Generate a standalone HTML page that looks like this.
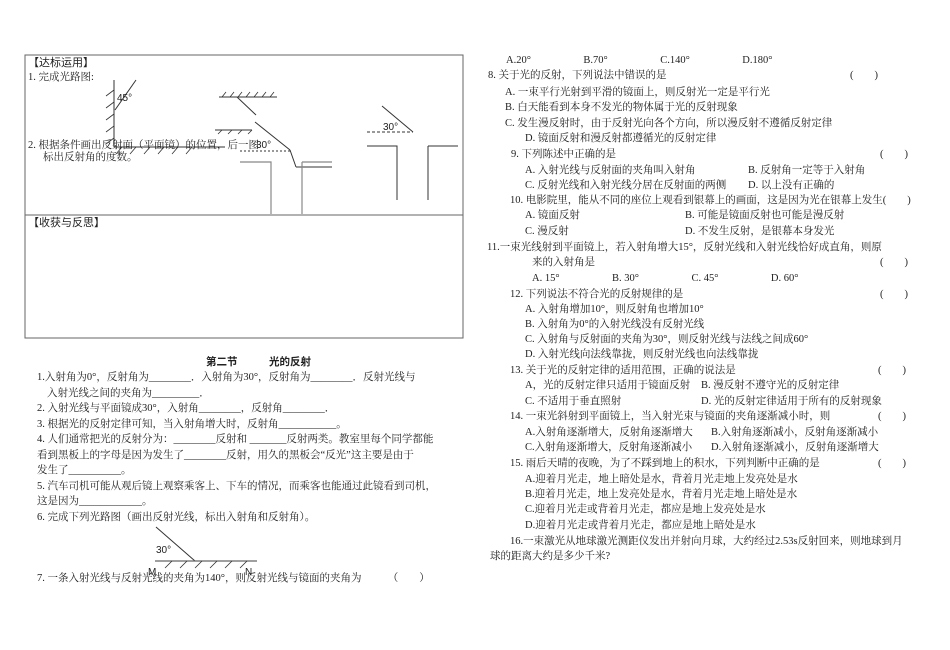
<!DOCTYPE html>
<html><head><meta charset="utf-8"><style>
body{margin:0;width:950px;height:650px;background:#fff;position:relative;overflow:hidden;font-family:"Liberation Serif","Noto Serif CJK SC","Noto Sans CJK SC",serif;font-size:10.5px;color:#222}
.t{position:absolute;white-space:nowrap;line-height:12px}
.s{font-family:"Liberation Sans","Noto Sans CJK SC",sans-serif}
</style></head><body>
<svg width="950" height="650" style="position:absolute;left:0;top:0" stroke="#333" fill="none" stroke-width="1">
<rect x="25" y="55" width="438" height="283" stroke="#666"/>
<line x1="25" y1="215" x2="463" y2="215" stroke="#666"/>
<line x1="114" y1="80" x2="114" y2="147"/>
<line x1="114" y1="147" x2="225" y2="147"/>
<g stroke-width="0.8">
<path d="M114 90l-8 6M114 102l-8 6M114 114l-8 6M114 126l-8 6M114 138l-8 6"/>
<path d="M122 147l-6 7M136 147l-6 7M150 147l-6 7M164 147l-6 7M178 147l-6 7M192 147l-6 7"/>
</g>
<line x1="136" y1="80" x2="115" y2="110"/>
<text x="117" y="101" fill="#222" stroke="none" font-family="Liberation Sans" font-size="10">45°</text>
<line x1="219" y1="97" x2="277" y2="97"/>
<path d="M222 97l4-5M230 97l4-5M238 97l4-5M246 97l4-5M254 97l4-5M262 97l4-5M270 97l4-5" stroke-width="0.8"/>
<line x1="256" y1="115" x2="237" y2="97"/>
<line x1="215" y1="130" x2="252" y2="130"/>
<path d="M218 134l4-4M228 134l4-4M238 134l4-4M248 134l4-4" stroke-width="0.8"/>
<line x1="255" y1="122" x2="290" y2="150"/>
<line x1="290" y1="150" x2="296" y2="167"/>
<line x1="296" y1="167" x2="332" y2="167"/>
<line x1="240" y1="151" x2="290" y2="151" stroke-dasharray="2,2"/>
<text x="256" y="148" fill="#222" stroke="none" font-family="Liberation Sans" font-size="10">30°</text>
<path d="M240 162h31v52M302 162h30M302 162v52" stroke="#888" stroke-width="1.2"/>
<line x1="382" y1="106" x2="413" y2="132"/>
<line x1="367" y1="132" x2="413" y2="132" stroke-dasharray="3,2"/>
<text x="383" y="130" fill="#222" stroke="none" font-family="Liberation Sans" font-size="10">30°</text>
<path d="M367 146h30v54M428 146h30M428 146v54"/>
<line x1="156" y1="527" x2="195" y2="561"/>
<line x1="155" y1="561" x2="257" y2="561" stroke="#666" stroke-width="1.2"/>
<path d="M165 568l7-7M180 568l7-7M195 568l7-7M210 568l7-7M225 568l7-7M240 568l7-7" stroke-width="0.8"/>
<text x="156" y="553" fill="#222" stroke="none" font-family="Liberation Sans" font-size="10">30°</text>
<text x="148" y="575" fill="#222" stroke="none" font-family="Liberation Sans" font-size="10">M</text>
<text x="245" y="575" fill="#222" stroke="none" font-family="Liberation Sans" font-size="10">N</text>
</svg>
<div class="t s" style="left:28px;top:57px;font-size:11px">【达标运用】</div>
<div class="t" style="left:28px;top:72px">1. 完成光路图:</div>
<div class="t" style="left:28px;top:140px">2. 根据条件画出反射面（平面镜）的位置，后一图</div>
<div class="t" style="left:43px;top:152px">标出反射角的度数。</div>
<div class="t s" style="left:28px;top:217px;font-size:11px">【收获与反思】</div>

<div class="t s" style="left:206px;top:356px;font-weight:bold">第二节　　　光的反射</div>
<div class="t" style="left:37px;top:372px">1.入射角为0°，反射角为________．入射角为30°，反射角为________．反射光线与</div>
<div class="t" style="left:47px;top:388px">入射光线之间的夹角为_________．</div>
<div class="t" style="left:37px;top:403px">2. 入射光线与平面镜成30°，入射角________，反射角________．</div>
<div class="t" style="left:37px;top:419px">3. 根据光的反射定律可知，当入射角增大时，反射角___________。</div>
<div class="t" style="left:37px;top:434px">4. 人们通常把光的反射分为：________反射和 _______反射两类。教室里每个同学都能</div>
<div class="t" style="left:37px;top:450px">看到黑板上的字母是因为发生了________反射，用久的黑板会“反光”这主要是由于</div>
<div class="t" style="left:37px;top:465px">发生了__________。</div>
<div class="t" style="left:37px;top:481px">5. 汽车司机可能从观后镜上观察乘客上、下车的情况，而乘客也能通过此镜看到司机，</div>
<div class="t" style="left:37px;top:496px">这是因为____________。</div>
<div class="t" style="left:37px;top:512px">6. 完成下列光路图（画出反射光线，标出入射角和反射角）。</div>
<div class="t" style="left:37px;top:573px">7. 一条入射光线与反射光线的夹角为140°，则反射光线与镜面的夹角为　　　（　　）</div>

<div class="t" style="left:506px;top:55px">A.20°　　　　　B.70°　　　　　C.140°　　　　　D.180°</div>
<div class="t" style="left:488px;top:70px">8. 关于光的反射，下列说法中错误的是</div><div class="t" style="left:850px;top:70px">(　　)</div>
<div class="t" style="left:505px;top:87px">A. 一束平行光射到平滑的镜面上，则反射光一定是平行光</div>
<div class="t" style="left:505px;top:102px">B. 白天能看到本身不发光的物体属于光的反射现象</div>
<div class="t" style="left:505px;top:118px">C. 发生漫反射时，由于反射光向各个方向，所以漫反射不遵循反射定律</div>
<div class="t" style="left:525px;top:133px">D. 镜面反射和漫反射都遵循光的反射定律</div>
<div class="t" style="left:511px;top:149px">9. 下列陈述中正确的是</div><div class="t" style="left:880px;top:149px">(　　)</div>
<div class="t" style="left:525px;top:165px">A. 入射光线与反射面的夹角叫入射角</div><div class="t" style="left:748px;top:165px">B. 反射角一定等于入射角</div>
<div class="t" style="left:525px;top:180px">C. 反射光线和入射光线分居在反射面的两侧</div><div class="t" style="left:748px;top:180px">D. 以上没有正确的</div>
<div class="t" style="left:510px;top:195px">10. 电影院里，能从不同的座位上观看到银幕上的画面，这是因为光在银幕上发生(　　)</div>
<div class="t" style="left:525px;top:210px">A. 镜面反射</div><div class="t" style="left:685px;top:210px">B. 可能是镜面反射也可能是漫反射</div>
<div class="t" style="left:525px;top:226px">C. 漫反射</div><div class="t" style="left:685px;top:226px">D. 不发生反射，是银幕本身发光</div>
<div class="t" style="left:487px;top:242px">11.一束光线射到平面镜上，若入射角增大15°，反射光线和入射光线恰好成直角，则原</div>
<div class="t" style="left:532px;top:257px">来的入射角是</div><div class="t" style="left:880px;top:257px">(　　)</div>
<div class="t" style="left:532px;top:273px">A. 15°　　　　　B. 30°　　　　　C. 45°　　　　　D. 60°</div>
<div class="t" style="left:510px;top:289px">12. 下列说法不符合光的反射规律的是</div><div class="t" style="left:880px;top:289px">(　　)</div>
<div class="t" style="left:525px;top:304px">A. 入射角增加10°，则反射角也增加10°</div>
<div class="t" style="left:525px;top:319px">B. 入射角为0°的入射光线没有反射光线</div>
<div class="t" style="left:525px;top:334px">C. 入射角与反射面的夹角为30°，则反射光线与法线之间成60°</div>
<div class="t" style="left:525px;top:349px">D. 入射光线向法线靠拢，则反射光线也向法线靠拢</div>
<div class="t" style="left:510px;top:365px">13. 关于光的反射定律的适用范围，正确的说法是</div><div class="t" style="left:878px;top:365px">(　　)</div>
<div class="t" style="left:525px;top:380px">A，光的反射定律只适用于镜面反射</div><div class="t" style="left:701px;top:380px">B. 漫反射不遵守光的反射定律</div>
<div class="t" style="left:525px;top:396px">C. 不适用于垂直照射</div><div class="t" style="left:701px;top:396px">D. 光的反射定律适用于所有的反射现象</div>
<div class="t" style="left:510px;top:411px">14. 一束光斜射到平面镜上，当入射光束与镜面的夹角逐渐减小时，则</div><div class="t" style="left:878px;top:411px">(　　)</div>
<div class="t" style="left:525px;top:427px">A.入射角逐渐增大，反射角逐渐增大</div><div class="t" style="left:711px;top:427px">B.入射角逐渐减小，反射角逐渐减小</div>
<div class="t" style="left:525px;top:442px">C.入射角逐渐增大，反射角逐渐减小</div><div class="t" style="left:711px;top:442px">D.入射角逐渐减小，反射角逐渐增大</div>
<div class="t" style="left:510px;top:458px">15. 雨后天晴的夜晚，为了不踩到地上的积水，下列判断中正确的是</div><div class="t" style="left:878px;top:458px">(　　)</div>
<div class="t" style="left:525px;top:474px">A.迎着月光走，地上暗处是水，背着月光走地上发亮处是水</div>
<div class="t" style="left:525px;top:489px">B.迎着月光走，地上发亮处是水，背着月光走地上暗处是水</div>
<div class="t" style="left:525px;top:504px">C.迎着月光走或背着月光走，都应是地上发亮处是水</div>
<div class="t" style="left:525px;top:520px">D.迎着月光走或背着月光走，都应是地上暗处是水</div>
<div class="t" style="left:510px;top:536px">16.一束激光从地球激光测距仪发出并射向月球，大约经过2.53s反射回来，则地球到月</div>
<div class="t" style="left:490px;top:551px">球的距离大约是多少千米?</div>
</body></html>
